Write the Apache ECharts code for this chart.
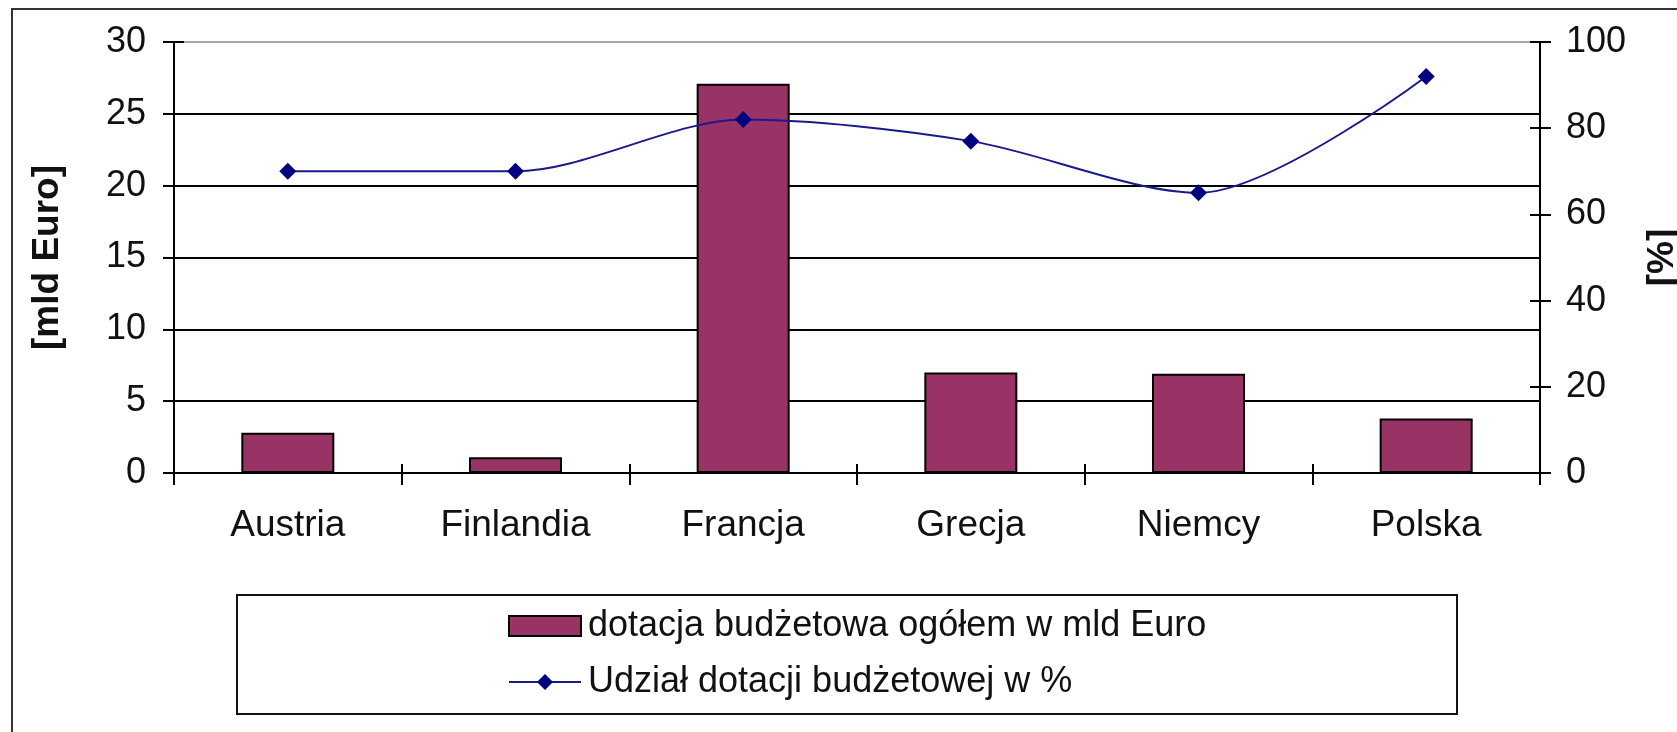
<!DOCTYPE html>
<html>
<head>
    <meta charset="utf-8">
    <title>Dotacja budżetowa</title>
    <script src="https://cdn.jsdelivr.net/npm/echarts@6/dist/echarts.min.js"></script>
    <style>
        html, body { margin: 0; padding: 0; background: #fff; }
        #chart { width: 1677px; height: 732px; }
    </style>
</head>
<body>
<div id="chart"></div>
<script type="text/javascript">
    // dane
    var kraje = ['Austria', 'Finlandia', 'Francja', 'Grecja', 'Niemcy', 'Polska'];
    var dotacjaMld = [2.8, 1.1, 27.1, 7.0, 6.9, 3.8];
    var udzialProc = [70, 70, 82, 77, 65, 92];

    var lewaOs = [0, 30, 5];
    var prawaOs = [0, 100, 20];

    var fontFamily = '"Liberation Sans", Arial, sans-serif';
    var ink = '#111';

    var chart = echarts.init(document.getElementById('chart'));

    // siatka: ostatnia linia (30) jasnoszara, reszta czarna
    var gridColors = ['#000', '#000', '#000', '#000', '#000', '#000', '#aaa'];

    // osie pomocnicze tylko po to, żeby kreski podziałki przecinały oś
    function osPomocnicza(pos, zakres) {
        return {
            type: 'value',
            min: zakres[0],
            max: zakres[1],
            interval: zakres[2],
            position: pos,
            axisLine: { show: false },
            axisTick: { show: true, inside: true, length: 10, lineStyle: { color: '#000', width: 2 } },
            axisLabel: { show: false },
            splitLine: { show: false }
        };
    }

    chart.setOption({
        backgroundColor: '#fff',
        animation: false,
        textStyle: { fontFamily: fontFamily, color: ink },
        grid: {
            left: 174,
            right: 137,
            top: 42,
            bottom: 259,
            containLabel: false,
            outerBoundsMode: 'none'
        },
        graphic: [
            {
                type: 'rect',
                shape: { x: 12, y: 9, width: 1800, height: 900 },
                style: { fill: null, stroke: '#333', lineWidth: 2 },
                silent: true
            },
            {
                type: 'rect',
                shape: { x: 237, y: 595, width: 1220, height: 119 },
                style: { fill: '#fff', stroke: '#111', lineWidth: 2 },
                z: 0,
                silent: true
            }
        ],
        legend: {
            orient: 'vertical',
            left: 503,
            top: 603,
            itemWidth: 72,
            itemHeight: 20,
            itemGap: 20,
            z: 10,
            textStyle: { fontFamily: fontFamily, fontSize: 36, color: ink, padding: [0, 0, 0, 2] },
            data: [
                { name: 'dotacja budżetowa ogółem w mld Euro', icon: 'rect' },
                { name: 'Udział dotacji budżetowej w %' }
            ]
        },
        xAxis: [
            {
                type: 'category',
                data: kraje,
                position: 'bottom',
                axisLine: { lineStyle: { color: '#000', width: 2 } },
                axisTick: { show: true, length: 12, lineStyle: { color: '#000', width: 2 } },
                axisLabel: { margin: 34, fontSize: 37, color: ink, fontFamily: fontFamily },
                splitLine: { show: false }
            },
            {
                type: 'category',
                data: kraje,
                position: 'bottom',
                axisLine: { show: false },
                axisTick: { show: true, inside: true, length: 9, lineStyle: { color: '#000', width: 2 } },
                axisLabel: { show: false },
                splitLine: { show: false }
            }
        ],
        yAxis: [
            {
                type: 'value',
                min: lewaOs[0],
                max: lewaOs[1],
                interval: lewaOs[2],
                position: 'left',
                name: '[mld Euro]',
                nameLocation: 'middle',
                nameRotate: 90,
                nameGap: 108,
                nameTextStyle: { fontSize: 37, fontWeight: 'bold', color: ink, fontFamily: fontFamily },
                axisLine: { show: true, lineStyle: { color: '#000', width: 2 } },
                axisTick: { show: true, length: 11, lineStyle: { color: '#000', width: 2 } },
                axisLabel: { margin: 28, fontSize: 36, color: ink, fontFamily: fontFamily },
                splitLine: { show: true, lineStyle: { color: gridColors, width: 2 } }
            },
            {
                type: 'value',
                min: prawaOs[0],
                max: prawaOs[1],
                interval: prawaOs[2],
                position: 'right',
                name: '[%]',
                nameLocation: 'middle',
                nameRotate: 90,
                nameGap: 104,
                nameTextStyle: { fontSize: 37, fontWeight: 'bold', color: ink, fontFamily: fontFamily },
                axisLine: { show: true, lineStyle: { color: '#000', width: 2 } },
                axisTick: { show: true, length: 11, lineStyle: { color: '#000', width: 2 } },
                axisLabel: { margin: 26, fontSize: 36, color: ink, fontFamily: fontFamily },
                splitLine: { show: false }
            },
            osPomocnicza('left', lewaOs),
            osPomocnicza('right', prawaOs)
        ],
        series: [
            {
                name: 'dotacja budżetowa ogółem w mld Euro',
                type: 'bar',
                xAxisIndex: 0,
                yAxisIndex: 0,
                barWidth: 93,
                data: dotacjaMld,
                itemStyle: { color: '#993366', borderColor: '#000', borderWidth: 2 },
                z: 3
            },
            {
                name: 'Udział dotacji budżetowej w %',
                type: 'line',
                xAxisIndex: 0,
                yAxisIndex: 1,
                smooth: 0.3,
                data: udzialProc,
                symbol: 'diamond',
                symbolSize: 17,
                lineStyle: { color: '#1a1a8c', width: 2 },
                itemStyle: { color: '#000080' },
                z: 4
            }
        ]
    });
</script>
</body>
</html>
